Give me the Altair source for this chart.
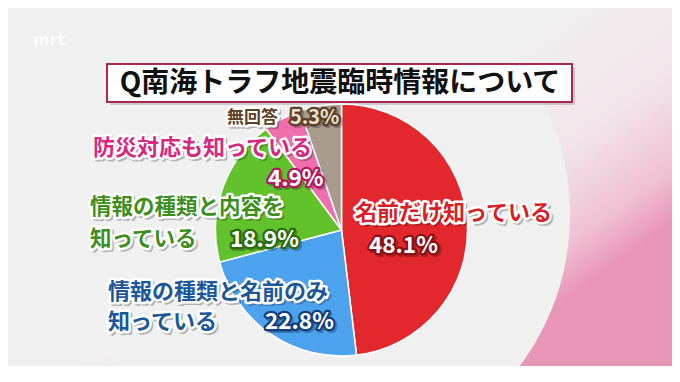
import altair as alt
import pandas as pd

# ---- data ----
categories = ["名前だけ知っている", "情報の種類と名前のみ知っている", "情報の種類と内容を知っている",
              "防災対応も知っている", "無回答"]
values = [48.1, 22.8, 18.9, 4.9, 5.3]
slice_colors = ["#e3282d", "#4da2ee", "#62c22b", "#ef6fae", "#a99b8b"]
title_text = "Q南海トラフ地震臨時情報について"

# ---- label layout (image pixel coordinates) ----
name_lines = [["名前だけ知っている"], ["情報の種類と名前のみ", "知っている"],
              ["情報の種類と内容を", "知っている"], ["防災対応も知っている"], ["無回答"]]
name_pos = [[(355, 213)], [(108, 292), (108, 322)], [(90, 208), (90, 240)], [(93, 148)], [(227, 118)]]
name_size = [22, 22, 21.5, 22, 17]
name_fill = ["#d81e26", "#1b5799", "#3e8e1e", "#d6287e", "#5e4024"]
pct_pos = [(369, 246), (265, 322), (230, 240), (268, 179), (290, 118)]
pct_size = [22.5, 22.5, 22.5, 22.5, 20]
pct_fill = ["#ffffff", "#ffffff", "#ffffff", "#ffffff", "#e9e0cf"]
pct_outline = ["#8a1015", "#123f7a", "#2a6a10", "#b01a60", "#5a4028"]

OFF = 8  # page margin
W, H = 680 - 2 * OFF, 382 - 2 * OFF - 8
FONT = "Noto Sans CJK JP"

rows = []
for i, cat in enumerate(categories):
    for line, (px, py) in zip(name_lines[i], name_pos[i]):
        rows.append(dict(text=line, x=px - OFF, y=py - OFF, size=name_size[i],
                         fill=name_fill[i], outline="#ffffff", sw=5))
    px, py = pct_pos[i]
    rows.append(dict(text=f"{values[i]:.1f}%", x=px - OFF, y=py - OFF, size=pct_size[i],
                     fill=pct_fill[i], outline=pct_outline[i], sw=4.5))
labels = pd.DataFrame(rows)

pie_df = pd.DataFrame({"cat": categories, "value": values, "ord": list(range(len(values)))})
one = alt.Data(values=[{"a": 1}])

bg = alt.Chart(one).mark_rect(
    color=alt.LinearGradient(
        gradient="linear", x1=0.6, y1=0.3, x2=1, y2=0.6,
        stops=[alt.GradientStop(color="#f0f0f0", offset=0),
               alt.GradientStop(color="#f2e4ea", offset=0.5),
               alt.GradientStop(color="#f0c0d3", offset=0.82),
               alt.GradientStop(color="#e995b8", offset=1)])
).encode(x=alt.value(0), x2=alt.value(W), y=alt.value(0), y2=alt.value(H))

disc = alt.Chart(one).mark_arc(radius=252, theta=0, theta2=6.2832, color="#f0f0f0").encode(
    x=alt.value(318 - OFF), y=alt.value(215 - OFF))

title_shadow = alt.Chart(one).mark_rect(color="#000000", opacity=0.15).encode(
    x=alt.value(110 - OFF), x2=alt.value(575 - OFF), y=alt.value(67 - OFF), y2=alt.value(105 - OFF))
title_box = alt.Chart(one).mark_rect(fill="#ffffff", stroke="#a8284e", strokeWidth=2).encode(
    x=alt.value(107 - OFF), x2=alt.value(572 - OFF), y=alt.value(64 - OFF), y2=alt.value(102 - OFF))
title = alt.Chart(one).mark_text(font=FONT, fontWeight="bold", fontSize=28, color="#111111",
                                 align="center", baseline="middle").encode(
    x=alt.value(340 - OFF), y=alt.value(84 - OFF), text=alt.value(title_text))

mark_wm = alt.Chart(one).mark_text(font="DejaVu Sans", fontWeight="bold", fontSize=16,
                                   color="#ffffff", opacity=0.85, align="left",
                                   baseline="middle").encode(
    x=alt.value(33 - OFF), y=alt.value(40 - OFF), text=alt.value("mrt"))

pie = alt.Chart(pie_df).mark_arc(radius=126, stroke="#ffffff", strokeWidth=1.5).encode(
    theta=alt.Theta("value:Q", stack=True),
    color=alt.Color("cat:N", scale=alt.Scale(domain=categories, range=slice_colors), legend=None),
    order=alt.Order("ord:Q"),
    x=alt.value(341.5 - OFF), y=alt.value(230 - OFF))

enc = dict(x=alt.X("x:Q", scale=None, axis=None), y=alt.Y("y:Q", scale=None, axis=None),
           text="text:N", size=alt.Size("size:Q", scale=None, legend=None))

shadow = alt.Chart(labels).mark_text(font=FONT, fontWeight="bold", align="left", baseline="middle",
                                     dx=2, dy=2, color="#000000", opacity=0.25, stroke="#000000",
                                     strokeWidth=4, strokeJoin="round").encode(**enc)
glow = alt.Chart(labels).mark_text(font=FONT, fontWeight="bold", align="left", baseline="middle",
                                   strokeJoin="round").encode(
    stroke=alt.Stroke("outline:N", scale=None), fill=alt.Fill("outline:N", scale=None),
    strokeWidth=alt.StrokeWidth("sw:Q", scale=None, legend=None), **enc)
front = alt.Chart(labels).mark_text(font=FONT, fontWeight="bold", align="left",
                                    baseline="middle").encode(
    fill=alt.Fill("fill:N", scale=None), **enc)

chart = alt.layer(bg, disc, title_shadow, title_box, title, mark_wm, pie, shadow, glow, front).properties(
    width=W, height=H, padding=0, autosize=alt.AutoSizeParams(type="none")
).configure_view(stroke=None, clip=False).configure(background="#f0f0f0")

chart.save("out.html", embed_options={"renderer": "svg", "actions": False})
